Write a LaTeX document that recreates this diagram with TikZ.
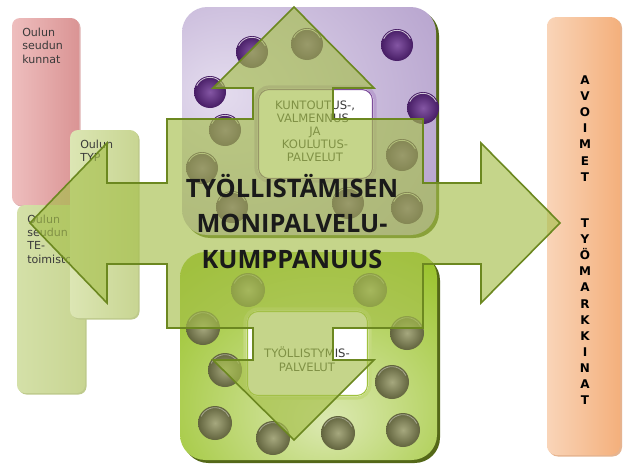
\documentclass[tikz,border=0pt]{standalone}
\usepackage{fontspec}
\setmainfont{DejaVu Sans}
\newfontfamily\headfont{Open Sans}
\usetikzlibrary{calc}

\definecolor{arrowfill}{RGB}{166,192,76}
\definecolor{arrowline}{RGB}{108,136,32}
\definecolor{textgrey}{RGB}{58,58,58}
\definecolor{pinner}{RGB}{228,220,238}
\definecolor{pouter}{RGB}{180,160,204}
\definecolor{ginner}{RGB}{220,233,178}
\definecolor{gouter}{RGB}{152,194,40}
\definecolor{boxshadow}{RGB}{84,104,24}
\definecolor{pballin}{RGB}{132,86,164}
\definecolor{pballout}{RGB}{70,28,100}
\definecolor{oballin}{RGB}{166,168,126}
\definecolor{oballout}{RGB}{98,100,62}

\pgfdeclareradialshading{purpleglow}{\pgfpoint{-18bp}{6bp}}{%
  color(0bp)=(pinner); color(45bp)=(pouter); color(100bp)=(pouter)}
\pgfdeclareradialshading{greenglow}{\pgfpoint{4bp}{-16bp}}{%
  color(0bp)=(ginner); color(40bp)=(gouter); color(100bp)=(gouter)}

\tikzset{
  sidetext/.style={anchor=base west, inner sep=0pt, align=left, text=textgrey,
    font=\fontsize{8.3}{10}\selectfont},
  innertext/.style={anchor=base, inner sep=0pt, align=center, text=textgrey},
  tmletter/.style={anchor=base, inner sep=0pt, text=black,
    font=\bfseries\fontsize{9}{10}\selectfont},
  pball/.style={circle, minimum size=24pt, inner sep=0pt,
    shading=radial, inner color=pballin, outer color=pballout},
  oball/.style={circle, minimum size=25.5pt, inner sep=0pt,
    shading=radial, inner color=oballin, outer color=oballout},
  ballrim/.style={white, line width=0.6pt, opacity=0.75},
  arrowshape/.style={fill=arrowfill, fill opacity=0.65, draw=arrowline,
    line width=1.2pt, line join=miter},
}

\begin{document}
\begin{tikzpicture}[x=0.75pt,y=-0.75pt]
\useasboundingbox (0,0) rectangle (624,464);
\fill[white] (0,0) rectangle (624,464);

% --- partner boxes on the left ---
\fill[rounded corners=6pt, color={rgb,255:red,222;green,176;blue,176}] (13.5,19.5) rectangle (80.5,206.5);
\path[rounded corners=6pt, left color={rgb,255:red,238;green,190;blue,190},
  middle color={rgb,255:red,248;green,230;blue,230},
  right color={rgb,255:red,218;green,148;blue,148}] (12,18) rectangle (79,205);
\node[sidetext] (kunnat) at (22,63.3) {Oulun\\seudun\\kunnat};

\fill[rounded corners=6pt, color={rgb,255:red,190;green,202;blue,140}] (18.5,206.5) rectangle (86.5,394.5);
\path[rounded corners=6pt, left color={rgb,255:red,212;green,224;blue,168},
  middle color={rgb,255:red,243;green,246;blue,230},
  right color={rgb,255:red,200;green,213;blue,146}] (17,205) rectangle (85,393);
\node[sidetext] (te) at (27,263) {Oulun\\seudun\\TE-\\toimisto};

\fill[rounded corners=6pt, color={rgb,255:red,190;green,202;blue,140}] (71.5,131.5) rectangle (139.5,319.5);
\path[rounded corners=6pt, left color={rgb,255:red,220;green,230;blue,180},
  middle color={rgb,255:red,244;green,246;blue,232},
  right color={rgb,255:red,200;green,213;blue,146}] (70,130) rectangle (138,318);
\node[sidetext] (typ) at (80,161.5) {Oulun\\TYP};

% --- rehabilitation services panel ---
\fill[boxshadow, rounded corners=19pt] (185,10) rectangle (439,238);
\path[shading=purpleglow, rounded corners=19pt] (182,7) rectangle (436,235);
\foreach \x/\y [count=\i] in {252/52, 307/44, 397/45, 210/92, 423/108, 225/130,
    402/155, 202/168, 232/207, 348/203, 407/208} {
  \node[pball] (pb\i) at (\x,\y) {};
  \draw[ballrim] ($(pb\i.center)+(155:11pt)$) arc[start angle=155, end angle=25, radius=11pt];
}
\draw[rounded corners=10pt, fill=white, draw={rgb,255:red,185;green,160;blue,207}, line width=2.4pt]
  (256,87) rectangle (375,181);
\draw[rounded corners=8pt, draw={rgb,255:red,125;green,77;blue,155}, line width=0.8pt]
  (258.5,89.5) rectangle (372.5,178.5);
\node[innertext, font=\fontsize{8.7}{9.75}\selectfont] (kuntoutus) at (315,161.2)
  {KUNTOUTUS-,\\VALMENNUS-\\JA\\KOULUTUS-\\PALVELUT};

% --- employment services panel ---
\fill[boxshadow, rounded corners=19pt] (183,255) rectangle (440,463);
\path[shading=greenglow, rounded corners=19pt] (180,252) rectangle (437,460);
\foreach \x/\y [count=\i] in {248/290, 370/290, 203/328, 407/333, 225/370,
    392/382, 215/423, 273/438, 338/433, 403/430} {
  \node[oball] (ob\i) at (\x,\y) {};
  \draw[ballrim, opacity=0.4] ($(ob\i.center)+(155:11.5pt)$) arc[start angle=155, end angle=25, radius=11.5pt];
}
\draw[rounded corners=10pt, fill=white, draw={rgb,255:red,196;green,218;blue,126}, line width=2.4pt]
  (245,309) rectangle (370,398);
\draw[rounded corners=8pt, draw={rgb,255:red,160;green,194;blue,62}, line width=0.8pt]
  (247.5,311.5) rectangle (367.5,395.5);
\node[innertext, font=\fontsize{8.7}{10.5}\selectfont] (tyollistymis) at (307,371)
  {TYÖLLISTYMIS-\\PALVELUT};

% --- open labour market ---
\fill[rounded corners=7pt, color={rgb,255:red,230;green,180;blue,144}] (548.5,18.5) rectangle (622,456.5);
\path[rounded corners=7pt, left color={rgb,255:red,249;green,212;blue,184},
  middle color={rgb,255:red,253;green,236;blue,226},
  right color={rgb,255:red,244;green,176;blue,124}] (547,17) rectangle (620,455);
\foreach \l [count=\i] in {A,V,O,I,M,E,T}
  \node[tmletter] (av\i) at (585,{84.5+16.1*(\i-1)}) {\l};
\foreach \l [count=\i] in {T,Y,Ö,M,A,R,K,K,I,N,A,T}
  \node[tmletter] (tm\i) at (585,{227.5+16.1*(\i-1)}) {\l};

% --- four-way partnership arrow ---
\draw[arrowshape] (294,7) -- (374,88) -- (333,88) -- (333,119) -- (423,119)
  -- (423,183) -- (481,183) -- (481,143) -- (560,223) -- (481,303) -- (481,264)
  -- (423,264) -- (423,328) -- (333,328) -- (333,360) -- (374,360) -- (294,440)
  -- (213,360) -- (253,360) -- (253,328) -- (167,328) -- (167,264) -- (107,264)
  -- (107,303) -- (30,223) -- (107,143) -- (107,183) -- (167,183) -- (167,119)
  -- (253,119) -- (253,88) -- (213,88) -- cycle;

\node[anchor=base, inner sep=0pt, align=center, text={rgb,255:red,26;green,26;blue,26},
  font=\headfont\bfseries\fontsize{19}{26.6}\selectfont] (title) at (292,268)
  {TYÖLLISTÄMISEN\\MONIPALVELU-\\KUMPPANUUS};
\end{tikzpicture}
\end{document}
